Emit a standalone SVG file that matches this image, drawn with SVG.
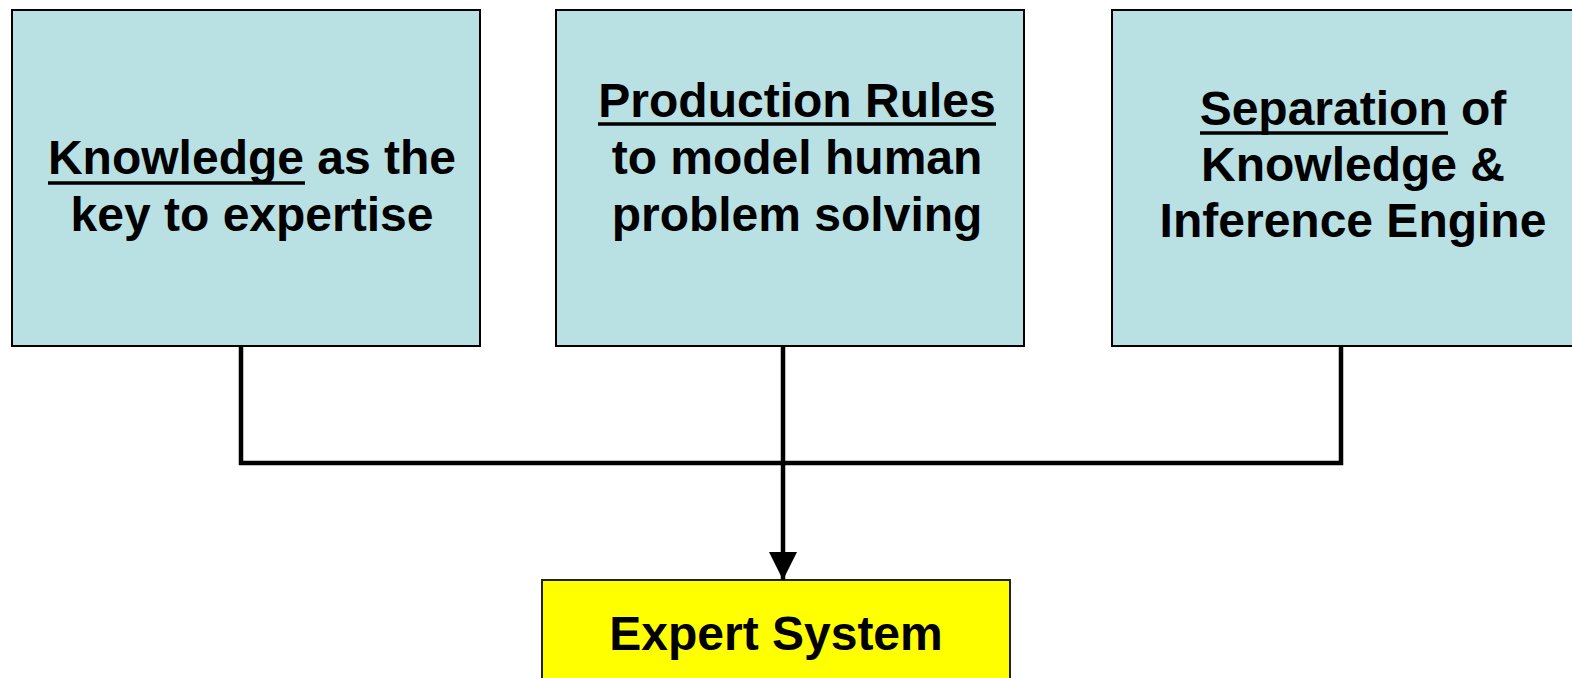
<svg xmlns="http://www.w3.org/2000/svg" width="1572" height="678" viewBox="0 0 1572 678">
<style>
.box{fill:#B9E0E3;stroke:#000;stroke-width:2}
.goal{fill:#FFFF00;stroke:#222;stroke-width:2}
.t{font-family:"Liberation Sans",Arial,sans-serif;font-weight:bold;font-size:48px;fill:#000;text-anchor:middle}
.u{stroke:#000;stroke-width:3.5}
.c{fill:none;stroke:#000;stroke-width:4.5}
</style>
<defs>
<marker id="ah" markerWidth="28" markerHeight="28" refX="28" refY="14" orient="auto" markerUnits="userSpaceOnUse">
<path d="M0,0 L28,14 L0,28 Z" fill="#000"/>
</marker>
</defs>
<g id="node-knowledge">
<rect class="box" x="12" y="10" width="468" height="336"/>
<text class="t" x="252" y="174">Knowledge as the</text>
<line class="u" x1="48" y1="183" x2="305" y2="183"/>
<text class="t" x="252" y="231">key to expertise</text>
</g>
<g id="node-rules">
<rect class="box" x="556" y="10" width="468" height="336"/>
<text class="t" x="797" y="117">Production Rules</text>
<line class="u" x1="598" y1="124" x2="996" y2="124"/>
<text class="t" x="797" y="174">to model human</text>
<text class="t" x="797" y="231">problem solving</text>
</g>
<g id="node-separation">
<rect class="box" x="1112" y="10" width="480" height="336"/>
<text class="t" x="1353" y="125">Separation of</text>
<line class="u" x1="1200" y1="133" x2="1448" y2="133"/>
<text class="t" x="1353" y="181">Knowledge &amp;</text>
<text class="t" x="1353" y="237">Inference Engine</text>
</g>
<g id="node-expert">
<rect class="goal" x="542" y="580" width="468" height="120"/>
<text class="t" x="776" y="650">Expert System</text>
</g>
<g id="connectors">
<polyline class="c" points="241,346 241,463 1341,463 1341,346"/>
<line class="c" x1="783" y1="346" x2="783" y2="580" marker-end="url(#ah)"/>
</g>
</svg>
